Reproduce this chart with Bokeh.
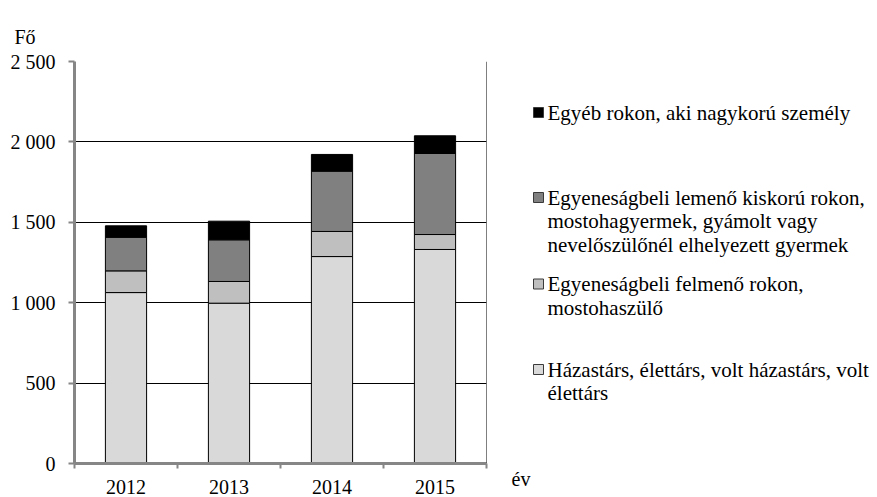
from bokeh.plotting import figure
from bokeh.models import ColumnDataSource, FixedTicker, Range1d, Span, Title
from bokeh.layouts import row
from bokeh.embed import file_html
from bokeh.resources import INLINE
from bokeh.core.properties import value

# ---------------- data ----------------
years = ["2012", "2013", "2014", "2015"]
hazastars = [1063, 997, 1287, 1331]      # Házastárs, élettárs, ...
felmeno = [135, 135, 156, 93]            # Egyeneságbeli felmenő rokon, ...
lemeno = [209, 259, 375, 504]            # Egyeneságbeli lemenő kiskorú rokon, ...
egyeb = [71, 116, 104, 110]              # Egyéb rokon, aki nagykorú személy

series_keys = ["hazastars", "felmeno", "lemeno", "egyeb"]
series_colors = ["#D9D9D9", "#BFBFBF", "#808080", "#000000"]

y_ticks = [0, 500, 1000, 1500, 2000, 2500]
y_tick_labels = ["0", "500", "1 000", "1 500", "2 000", "2 500"]

legend_lines = [
    ["Egyéb rokon, aki nagykorú személy"],
    ["Egyeneságbeli lemenő kiskorú  rokon,", "mostohagyermek, gyámolt vagy",
     "nevelőszülőnél elhelyezett gyermek"],
    ["Egyeneságbeli felmenő rokon,", "mostohaszülő"],
    ["Házastárs, élettárs, volt házastárs, volt", "élettárs"],
]
legend_colors = ["#000000", "#808080", "#BFBFBF", "#D9D9D9"]

y_title = "Fő"
x_title = "év"

# ---------------- style / layout ----------------
FONT = "Liberation Serif"
FS = "20px"
LEG_FS = "21px"
AXIS_GRAY = "#868686"
H = 497
W1 = 500
TOP, BOTTOM, LEFT, RIGHT = 61, 34, 74, 14

x_pos = [i + 0.5 for i in range(len(years))]
source = ColumnDataSource(dict(x=x_pos, hazastars=hazastars, felmeno=felmeno,
                               lemeno=lemeno, egyeb=egyeb))

p = figure(width=W1, height=H,
           x_range=Range1d(0, len(years)), y_range=Range1d(0, y_ticks[-1]),
           output_backend="svg", toolbar_location=None,
           min_border_left=LEFT, min_border_top=TOP, min_border_right=RIGHT,
           min_border_bottom=BOTTOM, outline_line_color=None)

p.vbar_stack(series_keys, x="x", width=0.4, fill_color=series_colors,
             line_color="black", line_width=1, source=source)

# x axis
xa = p.xaxis[0]
xa.ticker = FixedTicker(ticks=x_pos, minor_ticks=list(range(len(years) + 1)))
xa.major_label_overrides = {x: y for x, y in zip(x_pos, years)}
xa.major_tick_line_color = None
xa.minor_tick_line_color = AXIS_GRAY
xa.minor_tick_line_width = 2
xa.minor_tick_out = 5
xa.minor_tick_in = 0
xa.axis_line_color = AXIS_GRAY
xa.axis_line_width = 3
xa.major_label_text_font = FONT
xa.major_label_text_font_size = FS
xa.major_label_text_color = "black"
xa.major_label_standoff = 10

# y axis
ya = p.yaxis[0]
ya.ticker = FixedTicker(ticks=y_ticks)
ya.major_label_overrides = {t: l for t, l in zip(y_ticks, y_tick_labels)}
ya.major_tick_line_color = AXIS_GRAY
ya.major_tick_line_width = 2
ya.major_tick_out = 6
ya.major_tick_in = 0
ya.minor_tick_line_color = None
ya.axis_line_color = AXIS_GRAY
ya.axis_line_width = 3
ya.major_label_text_font = FONT
ya.major_label_text_font_size = FS
ya.major_label_text_color = "black"
ya.major_label_standoff = 13

p.xgrid.visible = False
p.ygrid.ticker = FixedTicker(ticks=y_ticks)
p.ygrid.grid_line_color = "black"
p.ygrid.grid_line_width = 1

p.add_layout(Span(location=len(years), dimension="height",
                  line_color="black", line_width=1))

p.add_layout(Title(text=y_title, align="left", offset=-60, text_font=FONT,
                   text_font_size=FS, text_font_style="normal",
                   text_color="black", standoff=28), "above")

# ---------------- legend panel (frame aligned with main frame) ----------------
LW = 877 - W1
leg = figure(width=LW, height=H, x_range=Range1d(0, LW),
             y_range=Range1d(H - BOTTOM, TOP),
             output_backend="svg", toolbar_location=None,
             min_border_left=0, min_border_right=0,
             min_border_top=TOP, min_border_bottom=BOTTOM,
             outline_line_color=None, x_axis_type=None, y_axis_type=None)
leg.grid.visible = False

entry_tops = [112, 197, 283.5, 369]   # page-y of each entry's first line
line_step = 23.5
my, ty, tt = [], [], []
for top, lines in zip(entry_tops, legend_lines):
    my.append(top)
    for j, ln in enumerate(lines):
        ty.append(top + j * line_step)
        tt.append(ln)
MX = 538 - W1
leg.rect(x=[MX] * len(my), y=my, width=10, height=10,
         fill_color=legend_colors, line_color="#3a3a3a", line_width=1)
leg.text(x=[547 - W1] * len(tt), y=ty, text=tt, text_font=value(FONT),
         text_font_size=LEG_FS, text_baseline="middle", text_color="black")

leg.add_layout(Title(text=x_title, align="left", offset=511 - W1, text_font=FONT,
                     text_font_size=FS, text_font_style="normal",
                     text_color="black", standoff=4), "below")

layout = row(p, leg)
open("out.html", "w").write(file_html(layout, INLINE))
